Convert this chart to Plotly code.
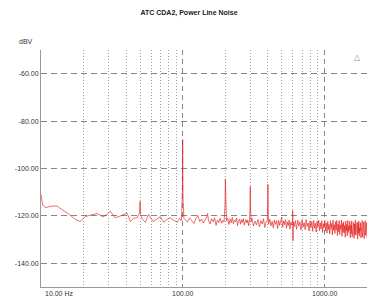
import math
import plotly.graph_objects as go

freq_hz = [
    10, 10.3, 10.8, 11.6, 12.9, 14.3, 16, 17.5, 18.9, 20.5, 22.5, 24.8, 27.5, 29, 30.8, 33.4, 36.5,
    40.5, 42.8, 45, 47.7, 49.5, 50, 50.5, 52, 54.6, 57.4, 60, 62, 65, 69.6, 73.6, 77, 82, 86, 91.6,
    95, 98, 99.5, 100, 100.5, 102,
    104, 108, 112, 116, 120, 124, 128, 132, 136, 140, 144, 148, 150, 152, 156, 160, 164, 168, 172,
    176, 180, 184, 188, 192, 196, 199, 200, 201, 204, 208, 212, 216, 220, 224, 228, 232, 236, 240,
    244, 248, 252, 256, 260, 264, 268, 272, 276, 280, 284, 288, 292, 296, 299, 300, 301, 304,
    308, 316, 324, 332, 340, 348, 356, 364, 372, 380, 388, 396, 399, 400, 401, 404, 412, 420, 428,
    436, 444, 452, 460, 468, 476, 484, 492, 500, 508, 516, 524, 532, 540, 548, 556, 564, 572, 580,
    588, 596, 598, 601, 604,
    612, 624, 636, 648, 660, 672, 684, 696, 708, 720, 732, 744, 756, 768, 780, 792, 804, 816, 828,
    840, 852, 864, 876, 888, 900, 912, 924, 936, 948, 960, 972, 984, 996, 1008, 1020, 1032, 1044,
    1056, 1068, 1080, 1092, 1104, 1116, 1128, 1140, 1152, 1164, 1176, 1188, 1200, 1212, 1224, 1236,
    1248, 1260, 1272, 1284, 1296, 1308, 1320, 1332, 1344, 1356, 1368, 1380, 1392, 1404, 1416, 1428,
    1440, 1452, 1464, 1476, 1488, 1500, 1512, 1524, 1536, 1548, 1560, 1572, 1584, 1596, 1608, 1620,
    1632, 1644, 1656, 1668, 1680, 1692, 1704, 1716, 1728, 1740, 1752, 1764, 1776, 1788, 1800, 1812,
    1824, 1836, 1848, 1860, 1872, 1884, 1896, 1908, 1920, 1932, 1944, 1956, 1968, 1980, 1992, 2004,
    2016,
]

level_dbv = [
    -111, -115.5, -116.5, -116, -115.8, -117.6, -119.6, -121.5, -122.4, -120.3, -119.5, -119, -120.4,
    -119.5, -118, -120.8, -120, -118.8, -122.4, -121, -120.8, -119, -113.8, -119.5, -121.5, -122.7,
    -119.4, -121, -122.4, -121.5, -120.3, -122.7, -121.5, -120.8, -121.8, -122.7, -121, -122, -110,
    -87.8, -112, -121,
    -121.5, -122.6, -120.8, -121.9, -123.2, -121.0, -119.8, -122.4, -121.3, -123.0, -121.6, -120.4,
    -119.0, -121.8, -123.4, -121.2, -122.5, -120.9, -124.0, -121.7, -122.8, -121.0, -123.1, -121.9,
    -122.6, -115, -104.6, -115, -122.1, -121.0, -123.6, -121.4, -122.9, -120.7, -123.3, -121.8,
    -122.5, -120.9, -124.1, -122.0, -121.3, -123.5, -121.6, -122.8, -121.1, -123.9, -122.2, -121.5,
    -123.0, -121.8, -124.2, -122.1, -116, -107.6, -116, -122.5,
    -121.0, -124.3, -122.2, -123.8, -121.5, -124.6, -122.0, -123.4, -121.2, -124.9, -122.6, -121.8,
    -114, -106.7, -114, -123.5, -121.4, -124.2, -122.3, -125.0, -121.7, -123.6, -122.0, -125.3,
    -121.9, -124.0, -122.4, -120.5, -124.8, -122.1, -123.7, -121.6, -125.2, -122.5, -124.1, -121.8,
    -125.5, -122.7, -123.9, -121.9, -117.8, -130.5, -122.6,
    -124.5, -122.0, -125.6, -121.8, -124.3, -122.5, -126.0, -121.6, -124.7, -122.9, -125.8, -121.5,
    -124.4, -123.0, -126.3, -122.1, -124.9, -122.4, -126.5, -121.9, -125.2, -123.1, -126.8, -122.2,
    -124.6, -121.8, -126.2, -122.9, -125.5, -122.0, -127.0, -123.3, -125.0, -121.9, -126.4, -123.0,
    -127.3, -122.3, -125.8, -123.6, -127.6, -122.1, -125.4, -123.2, -128.0, -121.8, -126.1, -123.7,
    -127.4, -122.4, -125.9, -121.9, -128.3, -123.5, -126.6, -122.0, -127.8, -123.9, -125.6, -121.7,
    -128.6, -123.2, -126.9, -122.5, -127.2, -124.1, -129.0, -122.2, -126.3, -123.6, -128.4, -121.9,
    -127.0, -124.4, -126.0, -122.3, -129.2, -123.8, -127.5, -122.1, -128.8, -124.6, -126.2, -122.7,
    -129.5, -123.4, -127.9, -121.8, -128.1, -124.9, -126.7, -122.6, -129.8, -123.1, -127.3, -122.2,
    -128.5, -125.0, -126.4, -122.9, -129.3, -123.7, -127.7, -121.9, -128.9, -124.3, -126.8, -122.5,
    -129.6, -123.5, -127.1, -122.0, -128.2, -124.7, -126.5, -122.8, -129.0, -123.9,
]

y_ticks = [-140, -120, -100, -80, -60]
y_tick_labels = ["-140.00", "-120.00", "-100.00", "-80.00", "-60.00"]
x_major = [100, 1000]
x_labels_pos = [10, 100, 1000]
x_labels = ["10.00 Hz", "100.00", "1000.00"]
x_minor = [20, 30, 40, 50, 60, 70, 80, 90, 200, 300, 400, 500, 600, 700, 800, 900]

font_family = "Liberation Sans, Arial, sans-serif"
major_col = "rgba(105,105,105,0.8)"
minor_col = "rgba(140,140,140,0.8)"
text_col = "#333333"

fig = go.Figure()
fig.add_trace(go.Scatter(
    x=freq_hz, y=level_dbv, mode="lines",
    line=dict(color="rgba(228,20,20,0.62)", width=1),
    showlegend=False, hoverinfo="skip",
))

fig.update_layout(
    width=367, height=300,
    margin=dict(l=41, r=0, t=50, b=13, autoexpand=False),
    paper_bgcolor="white", plot_bgcolor="white",
    font=dict(family=font_family, size=7, color=text_col),
    title=dict(text="<b>ATC CDA2, Power Line Noise</b>", x=0.515, xanchor="center",
               y=1 - 13 / 300, yanchor="middle", font=dict(size=7, color="#222")),
    showlegend=False,
)

fig.update_xaxes(
    type="log", range=[1, 3.301], automargin=False,
    tickvals=x_major, showticklabels=False, ticks="",
    showgrid=True, gridcolor=major_col, griddash="5px,4px", gridwidth=1,
    minor=dict(tickvals=x_minor, showgrid=True, gridcolor=minor_col, griddash="1px,2px",
               gridwidth=1, ticks=""),
    showline=True, linecolor="#999", linewidth=1, zeroline=False,
)
fig.update_yaxes(
    range=[-150, -50], automargin=False,
    tickvals=y_ticks + [-50], ticktext=y_tick_labels + [""], ticks="",
    showgrid=True, gridcolor=major_col, griddash="6px,4px", gridwidth=1,
    showline=True, linecolor="#999", linewidth=1,
    tickfont=dict(size=7, color=text_col), zeroline=False,
)

# annotations on a log axis take log10 positions
for xv, lab in zip(x_labels_pos, x_labels):
    fig.add_annotation(x=math.log10(xv), y=0, xref="x", yref="paper", text=lab, showarrow=False,
                       xanchor="left" if xv == 10 else "center", yanchor="top",
                       yshift=-1, xshift=2 if xv == 10 else 0,
                       font=dict(size=7, color=text_col))
fig.add_annotation(x=0, y=1, xref="paper", yref="paper", text="dBV", showarrow=False,
                   xanchor="right", yanchor="bottom", xshift=-6, yshift=3, font=dict(size=7, color=text_col))
fig.add_annotation(x=1, y=1, xref="paper", yref="paper", text="△", showarrow=False,
                   xanchor="right", yanchor="top", xshift=-4, yshift=-1, font=dict(size=8, color="#888"))

fig.write_html("out.html", config={"displayModeBar": False},
               post_script="document.body.style.margin='0';document.body.style.overflow='hidden';")
